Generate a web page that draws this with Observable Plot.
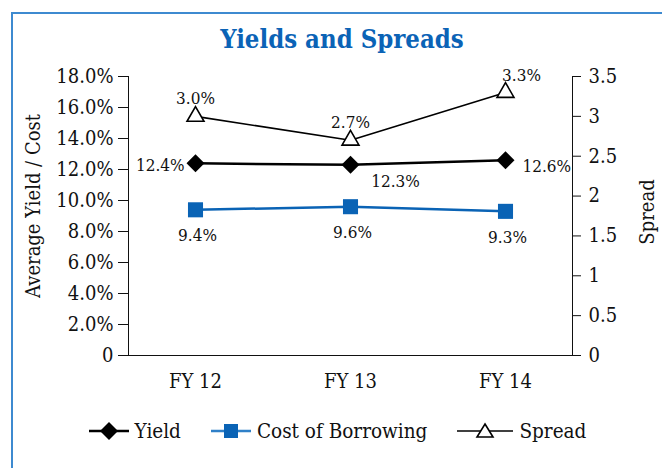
<!DOCTYPE html>
<html><head><meta charset="utf-8">
<script src="https://cdn.jsdelivr.net/npm/d3@7"></script>
<script src="https://cdn.jsdelivr.net/npm/@observablehq/plot@0.6"></script>
<style>
body{margin:0;background:#fff;}
#wrap{position:relative;width:662px;height:468px;overflow:hidden;font-family:"DejaVu Serif Condensed","DejaVu Serif",serif;font-stretch:condensed;color:#111;}
#frame{position:absolute;left:11px;top:12px;width:700px;height:500px;border-left:2px solid #3d8ad0;border-top:2px solid #3d8ad0;}
#title{position:absolute;left:0;width:684px;top:24px;text-align:center;font-weight:bold;font-size:25.5px;color:#0b63b6;}
#chart{position:absolute;left:0;top:0;}
#legend{position:absolute;left:0;top:419px;width:675px;display:flex;justify-content:center;align-items:center;font-size:20.5px;}
#legend .item{display:flex;align-items:center;margin:0 15px;}
#legend svg{margin-right:6px;}
</style></head>
<body>
<div id="wrap">
<div id="frame"></div>
<div id="chart"></div>
<div id="title">Yields and Spreads</div>
<div id="legend"></div>
</div>
<script>
const years = ["FY 12", "FY 13", "FY 14"];
const yieldVals = [12.4, 12.3, 12.6];
const costVals = [9.4, 9.6, 9.3];
const spreadVals = [3.0, 2.7, 3.3];
const leftTicks = [0, 2, 4, 6, 8, 10, 12, 14, 16, 18];
const rightTicks = [0, 0.5, 1, 1.5, 2, 2.5, 3, 3.5];
const seriesNames = ["Yield", "Cost of Borrowing", "Spread"];

const k = 18 / 3.5;
const blue = "#0a63b5";
const rows = years.map((y, i) => ({year: y, yield: yieldVals[i], cost: costVals[i], spread: spreadVals[i], sy: spreadVals[i] * k}));
const pct = v => v.toFixed(1) + "%";

const chart = Plot.plot({
  width: 662,
  height: 400,
  marginTop: 76,
  marginBottom: 45,
  marginLeft: 128,
  marginRight: 90,
  style: {fontFamily: '"DejaVu Serif Condensed","DejaVu Serif",serif', fontStretch: "condensed", color: "#111", background: "transparent"},
  x: {type: "point", domain: years, padding: 0.43},
  y: {domain: [0, 18]},
  marks: [
    Plot.frame({anchor: "left", stroke: "#111"}),
    Plot.frame({anchor: "right", stroke: "#111"}),
    Plot.ruleY([0], {stroke: "#111"}),
    Plot.axisY(leftTicks, {anchor: "left", tickSize: 10, tickPadding: 5, fontSize: 20, label: null,
      tickFormat: d => d === 0 ? "0" : d.toFixed(1) + "%"}),
    Plot.axisY(rightTicks.map(v => v * k), {anchor: "right", tickSize: 8, tickPadding: 8, fontSize: 20, label: null,
      tickFormat: d => String(+(d / k).toFixed(1))}),
    Plot.axisX({tickSize: 0, tickPadding: 18, fontSize: 20, label: null}),
    Plot.text(["Average Yield / Cost"], {frameAnchor: "left", textAnchor: "middle", dx: -95, dy: -10, rotate: -90, fontSize: 20}),
    Plot.text(["Spread"], {frameAnchor: "right", textAnchor: "middle", dx: 75, dy: -4, rotate: -90, fontSize: 20}),
    Plot.line(rows, {x: "year", y: "cost", stroke: blue, strokeWidth: 2.5}),
    Plot.dot(rows, {x: "year", y: "cost", symbol: "square", r: 8.5, fill: blue, stroke: "none"}),
    Plot.line(rows, {x: "year", y: "yield", stroke: "#000", strokeWidth: 2.5}),
    Plot.dot(rows, {x: "year", y: "yield", symbol: "diamond2", r: 8.1, fill: "#000", stroke: "none"}),
    Plot.line(rows, {x: "year", y: "sy", stroke: "#000", strokeWidth: 1.6}),
    Plot.dot(rows, {x: "year", y: "sy", symbol: "triangle", r: 6.3, fill: "#fff", stroke: "#000", strokeWidth: 1.6}),
    // labels
    Plot.text(rows.slice(0, 2), {x: "year", y: "sy", text: d => pct(d.spread), dy: -18, fontSize: 17}),
    Plot.text(rows.slice(2), {x: "year", y: "sy", text: d => pct(d.spread), dy: -17, dx: 16, fontSize: 17}),
    Plot.text(rows.slice(0, 1), {x: "year", y: "yield", text: d => pct(d.yield), dx: -11, dy: 2, textAnchor: "end", fontSize: 17}),
    Plot.text(rows.slice(1, 2), {x: "year", y: "yield", text: d => pct(d.yield), dx: 45, dy: 17, fontSize: 17}),
    Plot.text(rows.slice(2), {x: "year", y: "yield", text: d => pct(d.yield), dx: 17, dy: 6, textAnchor: "start", fontSize: 17}),
    Plot.text(rows, {x: "year", y: "cost", text: d => pct(d.cost), dy: 26, dx: 2, fontSize: 17})
  ]
});
document.getElementById("chart").appendChild(chart);

// legend
const legend = d3.select("#legend");
const sym = [
  {w: 40, line: "#000", lw: 2.5, shape: "diamond"},
  {w: 40, line: "#2f80c8", lw: 2.5, shape: "square"},
  {w: 56, line: "#000", lw: 1.6, shape: "triangle"}
];
seriesNames.forEach((name, i) => {
  const s = sym[i];
  const item = legend.append("div").attr("class", "item");
  const svg = item.append("svg").attr("width", s.w).attr("height", 20);
  svg.append("line").attr("x1", 0).attr("x2", s.w).attr("y1", 10).attr("y2", 10).attr("stroke", s.line).attr("stroke-width", s.lw);
  const cx = s.w / 2;
  if (s.shape === "diamond") svg.append("path").attr("d", `M${cx},1L${cx + 9},10L${cx},19L${cx - 9},10Z`).attr("fill", "#000");
  if (s.shape === "square") svg.append("rect").attr("x", cx - 7).attr("y", 3).attr("width", 14).attr("height", 14).attr("fill", blue);
  if (s.shape === "triangle") svg.append("path").attr("d", `M${cx},3L${cx + 8},16L${cx - 8},16Z`).attr("fill", "#fff").attr("stroke", "#000").attr("stroke-width", 1.6);
  item.append("span").text(name);
});
</script>
</body></html>
